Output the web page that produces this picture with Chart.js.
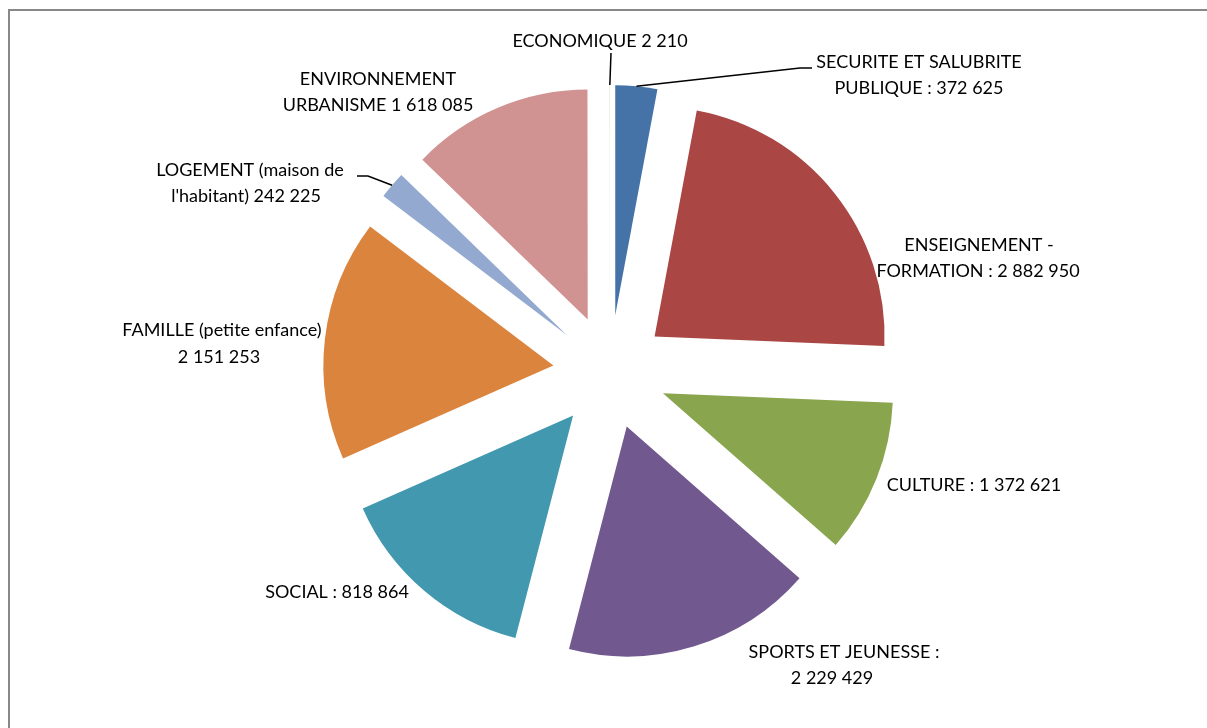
<!DOCTYPE html>
<html>
<head>
<meta charset="utf-8">
<script src="https://cdn.jsdelivr.net/npm/chart.js@4/dist/chart.umd.min.js"></script>
<style>
  html, body { margin: 0; padding: 0; background: #fff; }
  #wrap { width: 1207px; height: 728px; }
</style>
</head>
<body>
<div id="wrap"><canvas id="pie" width="1207" height="728"></canvas></div>
<script>
// Data (clockwise from 12 o'clock)
const categories = [
    'SECURITE ET SALUBRITE PUBLIQUE', 'ENSEIGNEMENT - FORMATION', 'CULTURE',
    'SPORTS ET JEUNESSE', 'SOCIAL', 'FAMILLE (petite enfance)',
    "LOGEMENT (maison de l'habitant)", 'ENVIRONNEMENT URBANISME', 'ECONOMIQUE'
];
// SOCIAL slice in the picture is ~52 deg, i.e. ~1.8 M, although its label reads 818 864
const amounts = [372625, 2882950, 1372621, 2229429, 1818864, 2151253, 242225, 1618085, 2210];
const labelLines = [
    ['SECURITE ET SALUBRITE', 'PUBLIQUE : 372 625'],
    ['ENSEIGNEMENT -', 'FORMATION : 2 882 950'],
    ['CULTURE : 1 372 621'],
    ['SPORTS ET JEUNESSE :', '2 229 429'],
    ['SOCIAL : 818 864'],
    ['FAMILLE (petite enfance)', '2 151 253'],
    ['LOGEMENT (maison de', "l'habitant) 242 225"],
    ['ENVIRONNEMENT', 'URBANISME 1 618 085'],
    ['ECONOMIQUE 2 210']
];
const colors = ['#4572A7', '#AA4643', '#89A54E', '#71588F', '#4198AF',
                '#DB843D', '#93A9CF', '#D19392', '#B9CD96'];

// layout of the text labels (centre of each line) and leader lines
const labelPos = [
    [[919, 62], [919, 88]],
    [[979, 245], [978, 271]],
    [[974, 485]],
    [[844, 652], [832, 678]],
    [[337, 592]],
    [[222, 330], [219, 357]],
    [[250, 170], [246, 196]],
    [[378, 79], [378, 105]],
    [[600, 41]]
];
const leaders = { 0: [[800, 68], [812, 68]], 6: [[368, 176], [357, 176]], 8: [[611, 53]] };
const EXPLODE = 57;
const FONT = '18px Lato';

// push every slice out along its bisector (Excel style explosion)
const explodePlugin = {
    id: 'explode',
    afterDatasetUpdate(chart, args) {
        chart.getDatasetMeta(args.index).data.forEach(arc => {
            const mid = (arc.startAngle + arc.endAngle) / 2;
            arc.x += Math.cos(mid) * EXPLODE;
            arc.y += Math.sin(mid) * EXPLODE;
        });
    }
};

const labelPlugin = {
    id: 'labels',
    beforeDraw(chart) {
        const ctx = chart.ctx;
        ctx.save();
        ctx.fillStyle = '#888888';
        ctx.fillRect(8, 9, chart.width, 2);
        ctx.fillRect(8, 9, 2, chart.height);
        ctx.restore();
    },
    afterDraw(chart) {
        const ctx = chart.ctx;
        const arcs = chart.getDatasetMeta(0).data;
        ctx.save();
        ctx.strokeStyle = '#000';
        ctx.lineWidth = 1.5;
        Object.keys(leaders).forEach(k => {
            const arc = arcs[k];
            const mid = (arc.startAngle + arc.endAngle) / 2;
            ctx.beginPath();
            ctx.moveTo(arc.x + Math.cos(mid) * arc.outerRadius, arc.y + Math.sin(mid) * arc.outerRadius);
            leaders[k].forEach(p => ctx.lineTo(p[0], p[1]));
            ctx.stroke();
        });
        ctx.fillStyle = '#000';
        ctx.font = FONT;
        ctx.textAlign = 'center';
        ctx.textBaseline = 'middle';
        labelLines.forEach((lines, i) => {
            lines.forEach((txt, j) => ctx.fillText(txt, labelPos[i][j][0], labelPos[i][j][1]));
        });
        ctx.restore();
    }
};

new Chart(document.getElementById('pie'), {
    type: 'pie',
    data: {
        labels: categories,
        datasets: [{
            data: amounts,
            backgroundColor: colors,
            borderWidth: 0
        }]
    },
    options: {
        responsive: false,
        animation: false,
        radius: 230,
        layout: { padding: { left: 13, top: 16, right: 0, bottom: 0 } },
        plugins: {
            legend: { display: false },
            tooltip: { enabled: false }
        }
    },
    plugins: [explodePlugin, labelPlugin]
});
</script>
</body>
</html>
